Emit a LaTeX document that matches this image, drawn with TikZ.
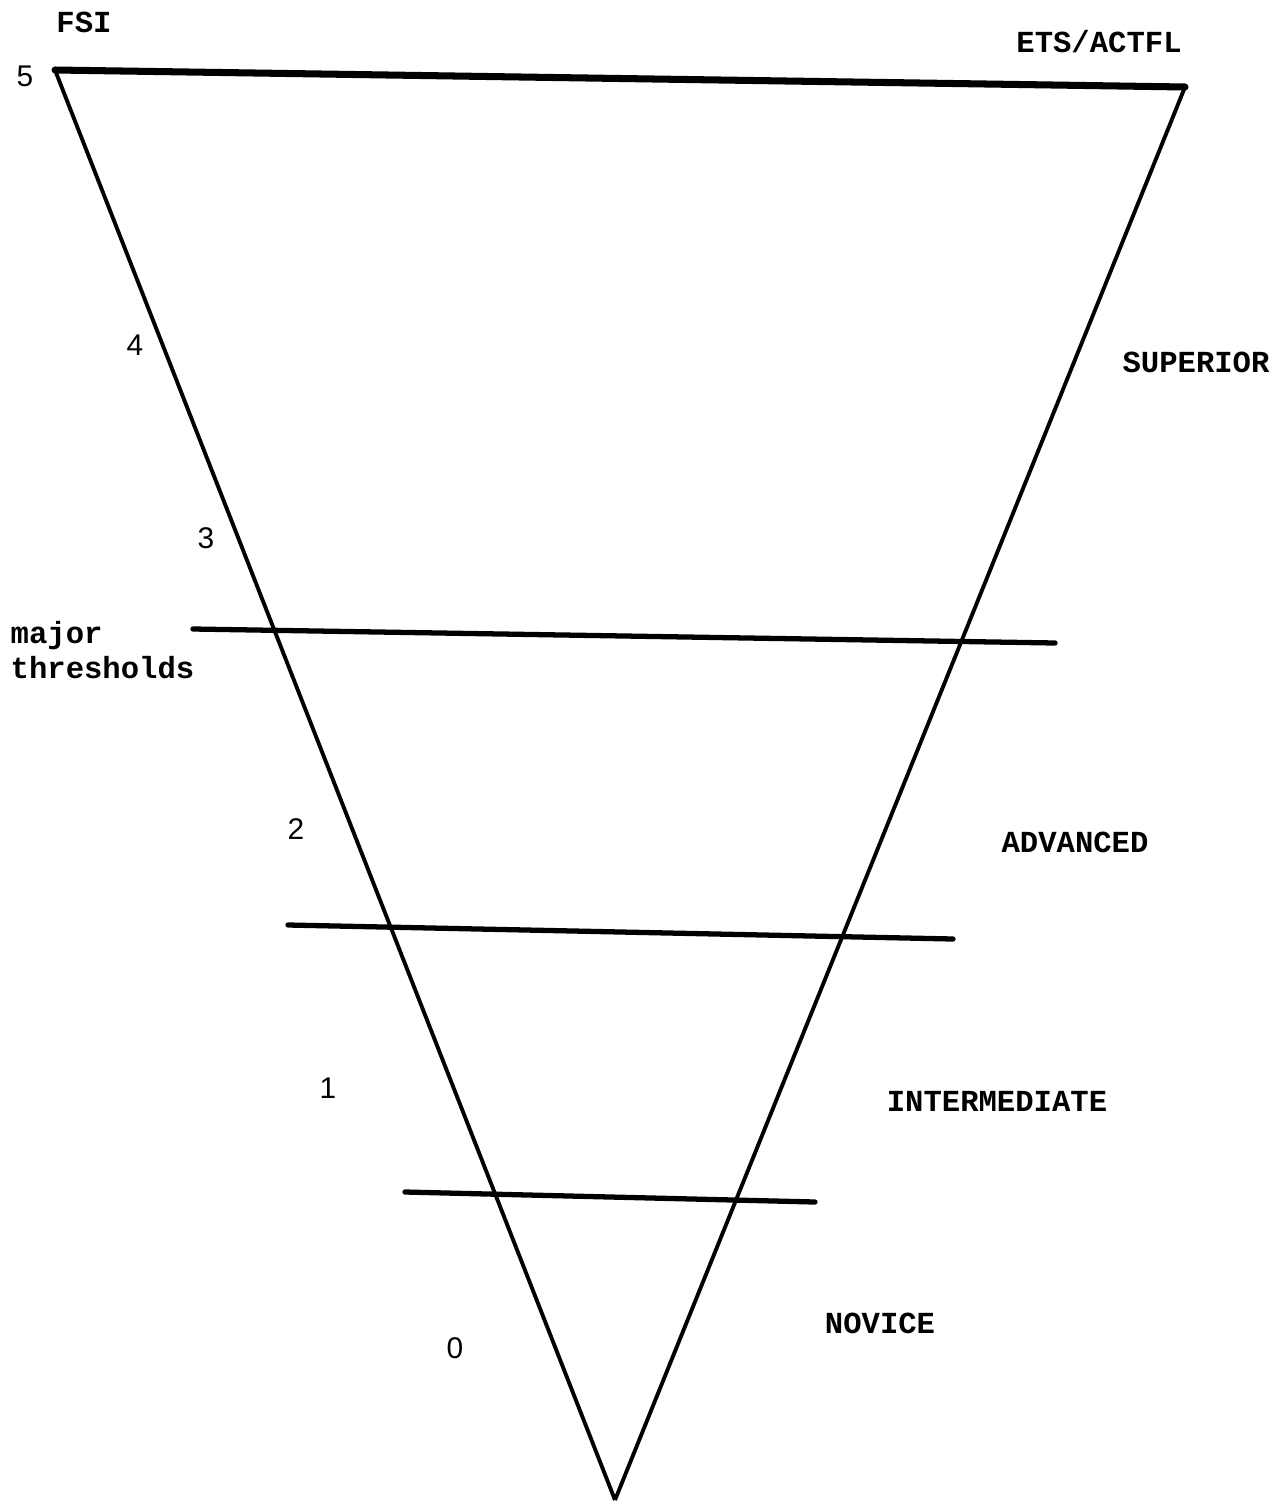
\documentclass[tikz,border=0pt]{standalone}
\usepackage{fontspec}
\setmonofont{Liberation Mono}
\setsansfont{Liberation Sans}
\usepackage{tikz}
\usetikzlibrary{calc,positioning}
\tikzset{
    level label/.style={
        font=\ttfamily\bfseries\fontsize{8.7}{10}\selectfont,
        inner sep=0pt
    },
    fsi label/.style={
        font=\sffamily\fontsize{8.5}{10}\selectfont,
        inner sep=0pt
    },
    cone/.style={line width=1.1pt,line join=round},
    threshold/.style={line width=1.5pt,line cap=round}
}

\begin{document}
\begin{tikzpicture}[x=0.01cm,y=-0.01cm]
\useasboundingbox (0,0) rectangle (1286,1506);
% corners of the cone
\coordinate (top_left) at (55,70);
\coordinate (top_right) at (1185,87);
\coordinate (tip) at (615,1500);
\draw[cone] (tip) -- (top_left);
\draw[cone] (tip) -- (top_right);
\draw[line width=2pt,line cap=round] (top_left) -- (top_right);
% thresholds
\foreach \i/\xa/\ya/\xb/\yb in {1/193/629/1055/643,2/288/925/953/939,3/405/1192/815/1202}{
    \coordinate (thr_\i_a) at (\xa,\ya);
    \coordinate (thr_\i_b) at (\xb,\yb);
    \draw[threshold] (thr_\i_a) -- (thr_\i_b);
}
% scale heads
\node[level label] (fsi) at (84,22) {FSI};
\node[level label] (ets) at (1099,42) {ETS/ACTFL};
% FSI numbers
\foreach \n/\x/\y in {5/25/76,4/135/345,3/206/538,2/296/829,1/328/1088,0/455/1348}
    \node[fsi label] (fsi_\n) at (\x,\y) {\n};
% ETS/ACTFL names
\foreach \name/\x/\y in {SUPERIOR/1196/362,ADVANCED/1075/842,INTERMEDIATE/997/1101,NOVICE/880/1323}
    \node[level label] (ets_\name) at (\x,\y) {\name};
\node[level label,anchor=west,align=left] (major) at (10,650) {major\\thresholds};
\end{tikzpicture}
\end{document}
